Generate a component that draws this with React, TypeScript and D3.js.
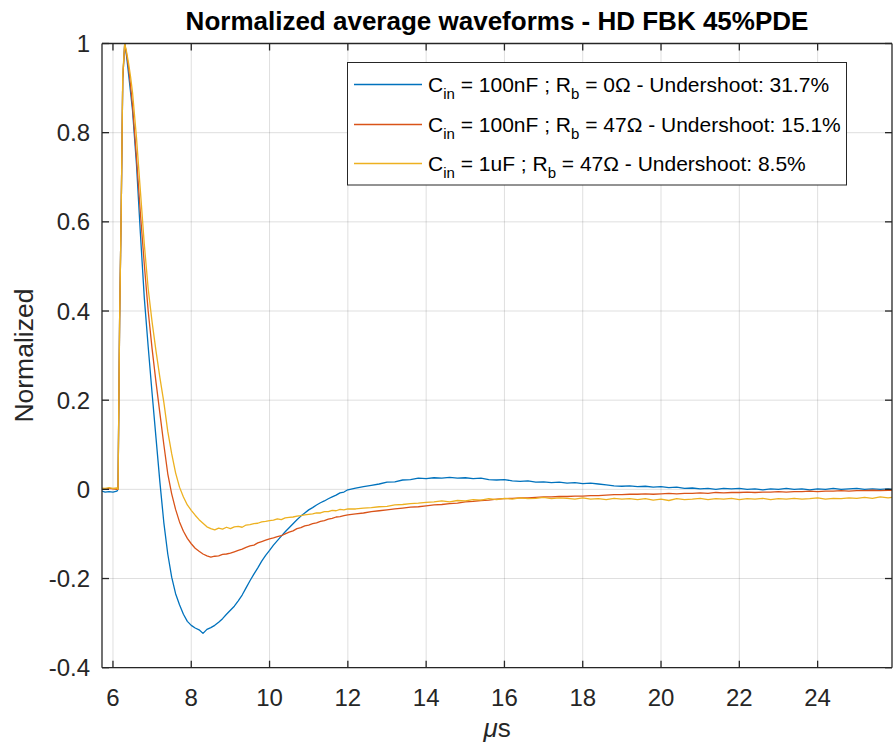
import React from 'react';
import * as d3 from 'd3';

const times = [
  5.72, 5.8, 5.9, 6.0, 6.1, 6.13, 6.17, 6.21, 6.25, 6.3, 6.35, 6.4, 6.45,
  6.5, 6.6, 6.7, 6.8, 6.9, 7.0, 7.1, 7.2, 7.3, 7.4, 7.5, 7.6, 7.7, 7.8, 7.9,
  8.0, 8.1, 8.2, 8.3, 8.4, 8.5, 8.6, 8.7, 8.8, 8.9, 9.0, 9.1, 9.2, 9.3, 9.4,
  9.5, 9.6, 9.7, 9.8, 9.9, 10.0, 10.1, 10.2, 10.3, 10.4, 10.5, 10.6, 10.7,
  10.8, 10.9, 11.0, 11.1, 11.2, 11.3, 11.4, 11.5, 11.6, 11.7, 11.8, 11.9, 12.0,
  12.2, 12.4, 12.6, 12.8, 13.0, 13.2, 13.4, 13.6, 13.8, 14.0, 14.2, 14.4, 14.6,
  14.8, 15.0, 15.2, 15.4, 15.6, 15.8, 16.0, 16.2, 16.4, 16.6, 16.8, 17.0, 17.2,
  17.4, 17.6, 17.8, 18.0, 18.2, 18.4, 18.6, 18.8, 19.0, 19.2, 19.4, 19.6, 19.8,
  20.0, 20.2, 20.4, 20.6, 20.8, 21.0, 21.2, 21.4, 21.6, 21.8, 22.0, 22.2, 22.4,
  22.6, 22.8, 23.0, 23.2, 23.4, 23.6, 23.8, 24.0, 24.2, 24.4, 24.6, 24.8, 25.0,
  25.2, 25.4, 25.6, 25.8, 25.9,
];

const blueValues = [
  -0.004, -0.006, -0.005, -0.006, -0.004, 0.0, 0.38, 0.62, 0.92, 1.0, 0.97, 0.93, 0.89,
  0.85, 0.73, 0.575, 0.43, 0.32, 0.215, 0.115, 0.015, -0.075, -0.145, -0.197, -0.234, -0.259, -0.28, -0.296,
  -0.305, -0.311, -0.315, -0.323, -0.314, -0.31, -0.305, -0.298, -0.29, -0.28, -0.271, -0.262, -0.25, -0.237, -0.221,
  -0.205, -0.19, -0.176, -0.161, -0.148, -0.137, -0.125, -0.115, -0.105, -0.095, -0.086, -0.077, -0.068,
  -0.06, -0.053, -0.046, -0.041, -0.035, -0.03, -0.026, -0.021, -0.017, -0.013, -0.008, -0.006, -0.001,
  0.003, 0.006, 0.009, 0.012, 0.016, 0.017, 0.021, 0.022, 0.025, 0.024, 0.026, 0.025, 0.027,
  0.025, 0.026, 0.024, 0.025, 0.022, 0.021, 0.022, 0.019, 0.018, 0.019, 0.016, 0.017, 0.015,
  0.016, 0.014, 0.015, 0.013, 0.014, 0.012, 0.01, 0.008, 0.007, 0.008, 0.006, 0.007, 0.005,
  0.006, 0.004, 0.005, 0.002, 0.003, 0.001, 0.002, 0.0, 0.002, 0.001, 0.002, 0.0, 0.001,
  -0.001, 0.001, 0.0, 0.002, 0.0, 0.001, -0.001, 0.001, 0.0, 0.002, 0.0, 0.001, 0.002,
  0.0, 0.001, 0.0, 0.001, 0.0,
];

const redValues = [
  0.001, 0.0, 0.002, 0.001, 0.0, 0.0, 0.38, 0.62, 0.92, 1.0, 0.975, 0.945, 0.905,
  0.86, 0.745, 0.62, 0.505, 0.4, 0.315, 0.24, 0.17, 0.1, 0.035, -0.01, -0.045, -0.073, -0.094, -0.11,
  -0.122, -0.132, -0.139, -0.145, -0.149, -0.152, -0.15, -0.149, -0.146, -0.145, -0.143, -0.14, -0.137, -0.134, -0.13,
  -0.127, -0.125, -0.12, -0.117, -0.114, -0.111, -0.109, -0.106, -0.104, -0.1, -0.096, -0.093, -0.088,
  -0.086, -0.082, -0.08, -0.077, -0.075, -0.072, -0.07, -0.067, -0.065, -0.062, -0.061, -0.059, -0.057,
  -0.055, -0.053, -0.05, -0.048, -0.046, -0.044, -0.042, -0.04, -0.039, -0.037, -0.035, -0.034, -0.032,
  -0.031, -0.028, -0.027, -0.025, -0.024, -0.022, -0.021, -0.02, -0.019, -0.019, -0.018, -0.017, -0.017,
  -0.016, -0.016, -0.015, -0.015, -0.014, -0.014, -0.013, -0.012, -0.012, -0.011, -0.011, -0.01, -0.011,
  -0.01, -0.009, -0.01, -0.009, -0.009, -0.008, -0.009, -0.007, -0.008, -0.007, -0.007, -0.006, -0.007,
  -0.006, -0.006, -0.005, -0.006, -0.005, -0.005, -0.004, -0.005, -0.004, -0.004, -0.003, -0.004, -0.003,
  -0.003, -0.002, -0.003, -0.002, -0.002,
];

const yellowValues = [
  0.003, 0.002, 0.004, 0.002, 0.003, 0.0, 0.38, 0.62, 0.93, 1.0, 0.98, 0.955, 0.925,
  0.89, 0.79, 0.67, 0.55, 0.45, 0.375, 0.31, 0.25, 0.195, 0.13, 0.08, 0.037, 0.005, -0.017, -0.035,
  -0.047, -0.058, -0.068, -0.076, -0.084, -0.088, -0.091, -0.087, -0.089, -0.085, -0.088, -0.084, -0.083, -0.085, -0.08,
  -0.079, -0.077, -0.076, -0.073, -0.072, -0.07, -0.069, -0.066, -0.068, -0.064, -0.063, -0.062, -0.06,
  -0.059, -0.057, -0.056, -0.055, -0.053, -0.053, -0.05, -0.05, -0.047, -0.048, -0.045, -0.046, -0.044,
  -0.044, -0.042, -0.041, -0.039, -0.038, -0.035, -0.034, -0.032, -0.031, -0.029, -0.028, -0.026, -0.028,
  -0.025, -0.026, -0.023, -0.024, -0.021, -0.023, -0.02, -0.022, -0.019, -0.021, -0.02, -0.018, -0.021,
  -0.019, -0.02, -0.022, -0.019, -0.022, -0.021, -0.023, -0.02, -0.022, -0.021, -0.023, -0.021, -0.024,
  -0.022, -0.025, -0.021, -0.023, -0.022, -0.02, -0.023, -0.021, -0.022, -0.02, -0.023, -0.021, -0.022,
  -0.02, -0.023, -0.021, -0.022, -0.02, -0.022, -0.021, -0.019, -0.022, -0.02, -0.021, -0.019, -0.02,
  -0.018, -0.02, -0.017, -0.019, -0.018,
];

const seriesColors = ['#0072BD', '#D95319', '#EDB120'];
const legendCin = ['100nF', '100nF', '1uF'];
const legendRb = ['0Ω', '47Ω', '47Ω'];
const legendUndershoot = ['31.7%', '15.1%', '8.5%'];

const xTicks = [6, 8, 10, 12, 14, 16, 18, 20, 22, 24];
const yTicks = [-0.4, -0.2, 0, 0.2, 0.4, 0.6, 0.8, 1];

const titleText = 'Normalized average waveforms - HD FBK 45%PDE';
const yLabelText = 'Normalized';

const FONT = '"Liberation Sans", Arial, Helvetica, sans-serif';
const AX = '#262626';

export default function App() {
  const W = 893;
  const H = 743;
  const L = 102;
  const R = 892;
  const T = 43.5;
  const B = 667.7;

  const x = d3.scaleLinear().domain([5.72, 25.9]).range([L, R]);
  const y = d3.scaleLinear().domain([-0.4, 1]).range([B, T]);

  const allSeries = [blueValues, redValues, yellowValues];
  const line = d3
    .line<number>()
    .defined((d) => d != null)
    .x((_, i) => x(times[i]))
    .y((d) => y(d));

  const tickLen = 7;

  return (
    <svg
      width={W}
      height={H}
      style={{ position: 'absolute', left: 0, top: 0, background: '#fff' }}
      fontFamily={FONT}
    >
      <rect x={0} y={0} width={W} height={H} fill="#fff" />
      <defs>
        <clipPath id="plotClip">
          <rect x={L} y={T} width={R - L} height={B - T} />
        </clipPath>
      </defs>
      {/* grid */}
      <g stroke={AX} strokeOpacity={0.15} strokeWidth={1}>
        {xTicks.map((t) => (
          <line key={'gx' + t} x1={x(t)} x2={x(t)} y1={T} y2={B} />
        ))}
        {yTicks.map((t) => (
          <line key={'gy' + t} x1={L} x2={R} y1={y(t)} y2={y(t)} />
        ))}
      </g>
      {/* series */}
      <g clipPath="url(#plotClip)" fill="none" strokeWidth={1.3} strokeLinejoin="round">
        {allSeries.map((s, i) => (
          <path key={'s' + i} d={line(s) || ''} stroke={seriesColors[i]} />
        ))}
      </g>
      {/* axes box */}
      <g stroke={AX} strokeWidth={1.3} fill="none">
        <line x1={L} x2={R} y1={B} y2={B} />
        <line x1={L} x2={R} y1={T} y2={T} />
        <line x1={L} x2={L} y1={T} y2={B} />
        <line x1={R} x2={R} y1={T} y2={B} />
        {xTicks.map((t) => (
          <g key={'tx' + t}>
            <line x1={x(t)} x2={x(t)} y1={B} y2={B - tickLen} />
            <line x1={x(t)} x2={x(t)} y1={T} y2={T + tickLen} />
          </g>
        ))}
        {yTicks.map((t) => (
          <g key={'ty' + t}>
            <line x1={L} x2={L + tickLen} y1={y(t)} y2={y(t)} />
            <line x1={R} x2={R - tickLen} y1={y(t)} y2={y(t)} />
          </g>
        ))}
      </g>
      {/* tick labels */}
      <g fill={AX} fontSize={24}>
        {xTicks.map((t) => (
          <text key={'lx' + t} x={x(t)} y={706} textAnchor="middle">
            {String(t)}
          </text>
        ))}
        {yTicks.map((t) => (
          <text key={'ly' + t} x={L - 12} y={y(t) + 8.5} textAnchor="end">
            {String(t)}
          </text>
        ))}
      </g>
      {/* title */}
      <text x={(L + R) / 2} y={30} textAnchor="middle" fontWeight="bold" fontSize={26} fill="#000">
        {titleText}
      </text>
      {/* y label */}
      <text
        transform={`translate(33, ${(T + B) / 2}) rotate(-90)`}
        textAnchor="middle"
        fontSize={26.5}
        fill={AX}
      >
        {yLabelText}
      </text>
      {/* x label */}
      <text x={(L + R) / 2} y={737} textAnchor="middle" fontSize={26} fill={AX}>
        <tspan fontStyle="italic">μ</tspan>
        <tspan>s</tspan>
      </text>
      {/* legend */}
      <g>
        <rect x={347.5} y={62.5} width={499} height={122.5} fill="#fff" stroke={AX} strokeWidth={1} />
        {seriesColors.map((c, i) => {
          const cy = Math.round(84 + i * 39.5) + 0.5;
          return (
            <g key={'lg' + i}>
              <line x1={354} x2={422} y1={cy} y2={cy} stroke={c} strokeWidth={1.3} />
              <text x={428} y={cy + 7} fontSize={21} fill="#000">
                <tspan>C</tspan>
                <tspan fontSize={15} dy={7}>in</tspan>
                <tspan dy={-7}>{` = ${legendCin[i]} ; R`}</tspan>
                <tspan fontSize={15} dy={7}>b</tspan>
                <tspan dy={-7}>{` = ${legendRb[i]} - Undershoot: ${legendUndershoot[i]}`}</tspan>
              </text>
            </g>
          );
        })}
      </g>
    </svg>
  );
}
